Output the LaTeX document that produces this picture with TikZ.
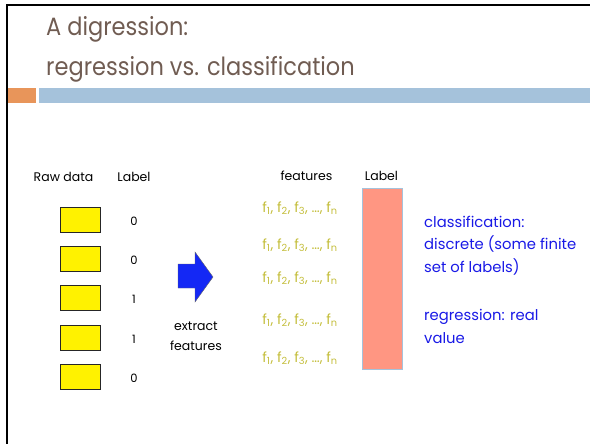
\documentclass[tikz,border=0pt]{standalone}
\usepackage{fontspec}
\setmainfont{Poppins}
\newfontfamily\slidetitlefont{Poppins}[FakeStretch=0.9]
\usetikzlibrary{positioning}

\definecolor{titlebrown}{RGB}{112,92,82}
\definecolor{barorange}{RGB}{232,149,90}
\definecolor{barblue}{RGB}{165,194,219}
\definecolor{featolive}{RGB}{196,190,60}
\definecolor{labelsalmon}{RGB}{255,150,130}
\definecolor{noteblue}{RGB}{25,25,230}
\definecolor{arrowblue}{RGB}{20,40,245}

\begin{document}
\begin{tikzpicture}[
  x=1pt,y=-1pt,
  title/.style={font=\slidetitlefont\fontsize{25}{30}\selectfont,text=titlebrown,anchor=base west,inner sep=0pt},
  colhead/.style={font=\fontsize{12.5}{14}\selectfont,anchor=base,inner sep=0pt},
  rawbox/.style={rectangle,draw=black!85,fill=yellow,line width=0.7pt,
                 minimum width=40pt,minimum height=25pt,inner sep=0pt},
  digit/.style={font=\fontsize{11.5}{14}\selectfont,inner sep=0pt},
  feat/.style={font=\fontsize{14}{16}\selectfont,text=featolive,inner sep=0pt},
  note/.style={font=\fontsize{14.8}{22.5}\selectfont,text=noteblue,align=left,
               anchor=base west,inner sep=0pt},
]
\useasboundingbox (0,0) rectangle (590,444);

% ---------- slide frame and title ----------
\draw[line width=2pt] (6.5,5.5) -- (590,5.5);
\draw[line width=2pt] (6.5,4.5) -- (6.5,444);
\node[title] (title1) at (46,36) {A digression:};
\node[title] (title2) at (46,76) {regression vs. classification};
\fill[barorange] (7.5,88) rectangle (36,103);
\fill[barblue] (39,88) rectangle (590,103);

% ---------- raw data and labels ----------
\node[colhead] (rawhead) at (63.5,182) {Raw data};
\node[colhead] (labhead) at (134,182) {Label};
\foreach \l [count=\i from 0] in {0,0,1,1,0} {
  \pgfmathsetmacro{\yb}{219.5+39.4*\i}
  \node[rawbox] (raw\i) at (80,\yb) {};
  \node[digit] (lab\i) at (134,\yb+1.5) {\l};
}

% ---------- extraction step ----------
\fill[arrowblue,draw=black!60,line width=0.4pt]
  (178,264) -- (195,264) -- (195,252) -- (213,277) -- (195,302)
  -- (195,288) -- (178,288) -- cycle;
% base anchor of a multi-line node sits on its last line
\node[font=\fontsize{12.5}{20}\selectfont,align=center,anchor=base,inner sep=0pt]
  (extract) at (196,350) {extract\\features};

% ---------- feature vectors and label column ----------
\node[colhead] (feathead) at (306.5,181) {features};
\node[colhead] (labhead2) at (381.5,181) {Label};
\foreach \yf [count=\i from 0] in {208,245,278,320,358} {
  \node[feat] (feat\i) at (300,\yf)
    {f\textsubscript{1}, f\textsubscript{2}, f\textsubscript{3}, \dots, f\textsubscript{n}};
}
\node[rectangle,fill=labelsalmon,draw=barblue,line width=0.8pt,
      minimum width=40pt,minimum height=181pt,inner sep=0pt] (labcol) at (382,278.5) {};

% ---------- notes ----------
\node[note] (classnote) at (424,272) {classification:\\discrete (some finite\\set of labels)};
\node[note] (regnote) at (424,343) {regression: real\\value};
\end{tikzpicture}
\end{document}
